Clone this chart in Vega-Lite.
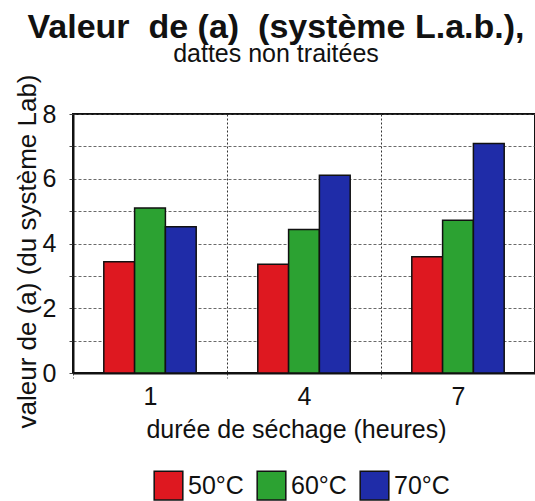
{
  "$schema": "https://vega.github.io/schema/vega-lite/v6.json",
  "width": 462,
  "height": 259,
  "autosize": {"type": "none"},
  "padding": {"left": 73, "top": 114, "right": 0, "bottom": 128},
  "background": "white",
  "title": {
    "text": "Valeur\u00a0 de (a)\u00a0 (système L.a.b.),",
    "subtitle": "dattes non traitées",
    "anchor": "middle",
    "frame": "group",
    "dx": -28,
    "offset": 7,
    "font": "Liberation Sans",
    "fontSize": 34,
    "fontWeight": "bold",
    "color": "#111",
    "subtitleFont": "Liberation Sans",
    "subtitleFontSize": 25,
    "subtitleColor": "#111",
    "subtitlePadding": -3
  },
  "data": {
    "values": [
      {"duree": "1", "temp": "50°C", "a": 3.44},
      {"duree": "1", "temp": "60°C", "a": 5.10},
      {"duree": "1", "temp": "70°C", "a": 4.52},
      {"duree": "4", "temp": "50°C", "a": 3.36},
      {"duree": "4", "temp": "60°C", "a": 4.43},
      {"duree": "4", "temp": "70°C", "a": 6.11},
      {"duree": "7", "temp": "50°C", "a": 3.59},
      {"duree": "7", "temp": "60°C", "a": 4.72},
      {"duree": "7", "temp": "70°C", "a": 7.09}
    ]
  },
  "mark": {"type": "bar", "stroke": "#111", "strokeWidth": 1.5},
  "encoding": {
    "x": {
      "field": "duree",
      "type": "nominal",
      "sort": ["1", "4", "7"],
      "scale": {"paddingInner": 0, "paddingOuter": 0},
      "axis": {
        "title": "durée de séchage (heures)",
        "titleX": 223,
        "titlePadding": 8,
        "labelAngle": 0,
        "labelPadding": 6,
        "tickBand": "extent",
        "tickSize": 5,
        "tickColor": "#444",
        "tickDash": [2, 2],
        "grid": true,
        "gridColor": "#333",
        "gridDash": [2, 2],
        "gridWidth": 1,
        "domainColor": "#111",
        "domainWidth": 2
      }
    },
    "xOffset": {
      "field": "temp",
      "type": "nominal",
      "scale": {"paddingOuter": 1.2, "paddingInner": 0}
    },
    "y": {
      "field": "a",
      "type": "quantitative",
      "scale": {"domain": [0, 8], "nice": false},
      "axis": {
        "title": "valeur de (a) (du système Lab)",
        "titleY": 137,
        "titlePadding": 2,
        "titleFontSize": 26,
        "values": [0, 1, 2, 3, 4, 5, 6, 7, 8],
        "labelExpr": "datum.value % 2 == 0 ? datum.label : ''",
        "labelPadding": 13,
        "tickSize": 4,
        "tickColor": "#444",
        "grid": true,
        "gridColor": "#444",
        "gridDash": [3, 2],
        "gridWidth": 0.8,
        "domainColor": "#111",
        "domainWidth": 2
      }
    },
    "color": {
      "field": "temp",
      "type": "nominal",
      "scale": {"domain": ["50°C", "60°C", "70°C"], "range": ["#de1820", "#2ca232", "#1f2ca8"]},
      "legend": {
        "title": null,
        "orient": "none",
        "direction": "horizontal",
        "legendX": 80,
        "legendY": 356,
        "padding": 0,
        "symbolType": "square",
        "symbolSize": 820,
        "symbolStrokeColor": "#111",
        "symbolStrokeWidth": 1.5,
        "symbolOpacity": 1,
        "labelFontSize": 25,
        "labelFont": "Liberation Sans",
        "labelColor": "#111",
        "labelOffset": 4,
        "columnPadding": 10
      }
    }
  },
  "config": {
    "font": "Liberation Sans",
    "view": {"stroke": "#111", "strokeWidth": 2},
    "axis": {
      "labelFont": "Liberation Sans",
      "labelFontSize": 25,
      "labelColor": "#111",
      "titleFont": "Liberation Sans",
      "titleFontSize": 25,
      "titleFontWeight": "normal",
      "titleColor": "#111"
    }
  }
}
